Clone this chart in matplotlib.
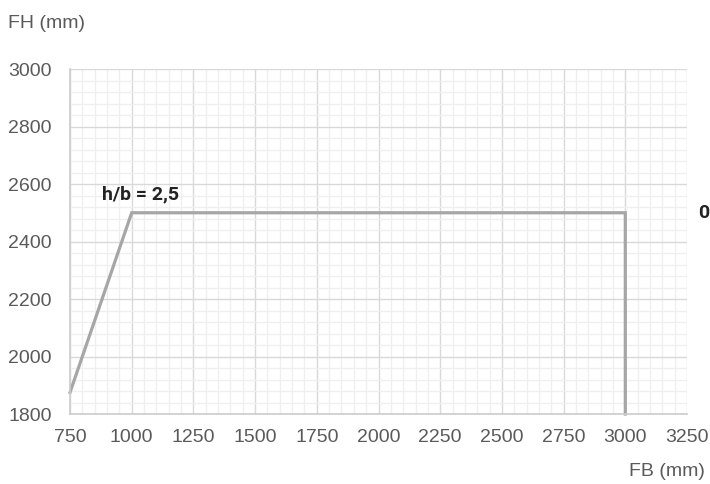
import matplotlib
matplotlib.use("Agg")
import matplotlib.pyplot as plt
from matplotlib.ticker import MultipleLocator
from matplotlib import font_manager

plt.rcParams['font.family'] = ['Liberation Sans', 'DejaVu Sans']

fb = [750, 1000, 3000, 3000]
fh = [1875, 2500, 2500, 1800]
xticks = [750, 1000, 1250, 1500, 1750, 2000, 2250, 2500, 2750, 3000, 3250]
yticks = [1800, 2000, 2200, 2400, 2600, 2800, 3000]
ratio_label = "h/b = 2,5"
right_label = "0"

names = {f.name for f in font_manager.fontManager.ttflist}
narrow = 'Liberation Sans Narrow' if 'Liberation Sans Narrow' in names else 'Roboto'

fig = plt.figure(figsize=(7.1, 4.84), dpi=100)
ax = fig.add_axes([0.0986, 0.1446, 0.869, 0.7128])
ax.set_xlim(750, 3250)
ax.set_ylim(1800, 3000)
ax.set_xticks(xticks)
ax.set_yticks(yticks)
ax.xaxis.set_minor_locator(MultipleLocator(50))
ax.yaxis.set_minor_locator(MultipleLocator(40))
ax.grid(which='major', color='#d9d9d9', linewidth=1.0)
ax.grid(which='minor', color='#efefef', linewidth=0.9)
ax.set_axisbelow(True)
for s in ['top', 'right']:
    ax.spines[s].set_visible(False)
for s in ['left', 'bottom']:
    ax.spines[s].set_color('#cccccc')
    ax.spines[s].set_linewidth(1.2)
ax.tick_params(which='both', length=0, labelsize=14, labelcolor='#5a5a5a')
ax.tick_params(axis='y', pad=13)
ax.tick_params(axis='x', pad=11)

ax.plot(fb, fh, color='#a6a6a6', linewidth=2.3, solid_joinstyle='miter', clip_on=False)

ax.text(1035, 2565, ratio_label, ha='center', va='center', fontsize=14, fontweight='bold',
        color='#222222', family=[narrow, 'DejaVu Sans'])
ax.text(3295, 2500, right_label, ha='left', va='center', fontsize=14, fontweight='bold',
        color='#222222', family=[narrow, 'DejaVu Sans'])

fig.text(8/710, 1-23/484, "FH (mm)", ha='left', va='center', fontsize=14, color='#5a5a5a')
fig.text(705/710, 1-472/484, "FB (mm)", ha='right', va='center', fontsize=14, color='#5a5a5a')

fig.savefig("out.png", dpi=100)
